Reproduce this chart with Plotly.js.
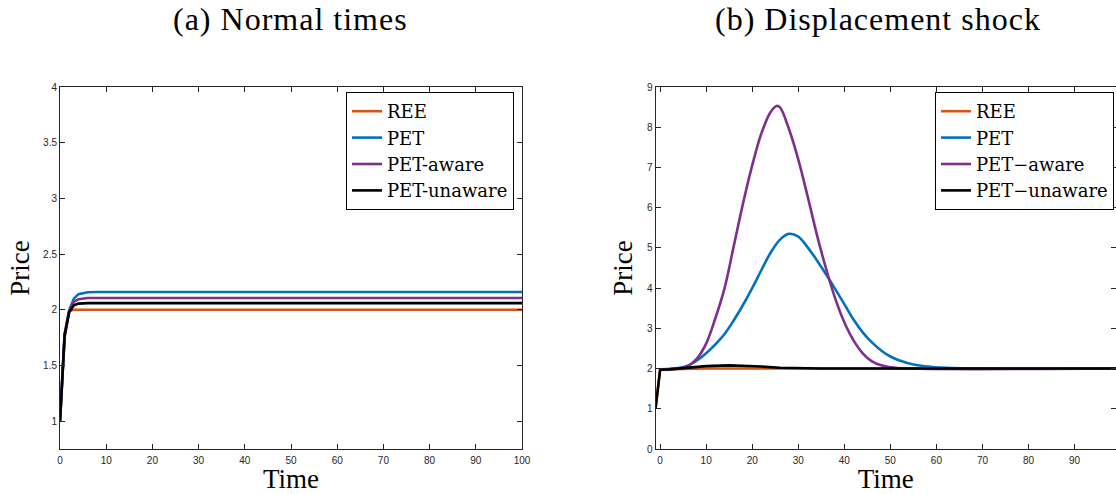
<!DOCTYPE html>
<html>
<head>
<meta charset="utf-8">
<script src="https://cdn.plot.ly/plotly-3.0.1.min.js"></script>
<style>
html,body{margin:0;padding:0;background:#fff;overflow:hidden;}
#chart{width:1116px;height:494px;}
#chart .annotation-text{letter-spacing:1px;}
</style>
</head>
<body>
<div id="chart"></div>
<script>
// ---- Panel (a): Normal times ----
const tA = [0, 1, 2, 3, 4, 5, 6, 8, 10, 100];
const reeA = [1, 1.75, 1.99, 2.0, 2.0, 2.0, 2.0, 2.0, 2.0, 2.0];
const petA = [1, 1.78, 2.0, 2.10, 2.14, 2.152, 2.157, 2.16, 2.16, 2.16];
const awareA = [1, 1.78, 1.99, 2.07, 2.095, 2.102, 2.105, 2.105, 2.105, 2.105];
const unawareA = [1, 1.77, 1.98, 2.04, 2.055, 2.06, 2.06, 2.06, 2.06, 2.06];

// ---- Panel (b): Displacement shock ----
const tRee = [-1, 0, 5, 10, 20, 40, 99];
const reeB = [1, 1.97, 1.99, 2.0, 2.0, 2.0, 2.0];

const tPet = [0, 2, 4, 6, 8, 10, 12, 14, 16, 18, 20, 22, 24, 26, 28, 30, 32, 34, 36, 38, 40, 42, 44, 46, 48, 50, 52, 55, 58, 62, 70, 99];
const petB = [1.98, 1.99, 2.01, 2.07, 2.2, 2.38, 2.6, 2.86, 3.2, 3.58, 4.0, 4.45, 4.88, 5.2, 5.35, 5.28, 5.02, 4.7, 4.35, 3.98, 3.6, 3.22, 2.9, 2.65, 2.45, 2.3, 2.2, 2.1, 2.05, 2.02, 2.0, 2.0];

const tAware = [0, 2, 4, 6, 8, 10, 12, 14, 16, 18, 20, 22, 24, 25.3, 26, 28, 30, 32, 34, 36, 38, 40, 42, 44, 46, 48, 50, 54, 99];
const awareB = [1.98, 1.99, 2.0, 2.06, 2.25, 2.62, 3.25, 4.0, 5.05, 6.1, 7.05, 7.85, 8.38, 8.53, 8.5, 7.95, 7.2, 6.3, 5.35, 4.5, 3.75, 3.15, 2.7, 2.38, 2.18, 2.08, 2.03, 2.0, 2.0];

const tUnaware = [-1, 0, 2, 5, 10, 15, 18, 22, 26, 30, 35, 99];
const unawareB = [1, 1.97, 1.98, 2.01, 2.06, 2.08, 2.075, 2.05, 2.02, 2.01, 2.0, 2.0];

const names = ['REE', 'PET', 'PET-aware', 'PET-unaware'];
const namesB = ['REE', 'PET', 'PET\u2212aware', 'PET\u2212unaware'];
const colors = ['#D95319', '#0072BD', '#7E2F8E', '#000000'];

const W = 1116, H = 494;
const serif = 'Liberation Serif, Times New Roman, serif';
const legSerif = 'DejaVu Serif, serif';
const sans = 'Liberation Sans, Arial, sans-serif';

function tr(x, y, i, nm, xa, ya, lg, shape) {
  return {x: x, y: y, type: 'scatter', mode: 'lines', name: nm,
    line: {color: colors[i], width: 2.6, shape: shape || 'linear', smoothing: 1},
    xaxis: xa, yaxis: ya, legend: lg, hoverinfo: 'skip'};
}

const data = [
  tr(tA, reeA, 0, names[0], 'x', 'y', 'legend'),
  tr(tA, petA, 1, names[1], 'x', 'y', 'legend'),
  tr(tA, awareA, 2, names[2], 'x', 'y', 'legend'),
  tr(tA, unawareA, 3, names[3], 'x', 'y', 'legend'),
  tr(tRee, reeB, 0, namesB[0], 'x2', 'y2', 'legend2'),
  tr(tPet, petB, 1, namesB[1], 'x2', 'y2', 'legend2', 'spline'),
  tr(tAware, awareB, 2, namesB[2], 'x2', 'y2', 'legend2', 'spline'),
  tr(tUnaware, unawareB, 3, namesB[3], 'x2', 'y2', 'legend2')
];

const axCommon = {
  showline: true, linecolor: '#262626', linewidth: 1, mirror: 'ticks',
  ticks: 'inside', ticklen: 5, tickwidth: 1, tickcolor: '#262626',
  showgrid: false, zeroline: false,
  tickfont: {family: sans, size: 10, color: '#262626'}
};
const yDom = [1 - 449 / H, 1 - 87 / H];
const titleFont = {family: serif, size: 27, color: '#000'};
const legendFont = {family: legSerif, size: 18, color: '#000'};

const layout = {
  width: W, height: H,
  margin: {l: 0, r: 0, t: 0, b: 0},
  paper_bgcolor: '#fff', plot_bgcolor: '#fff',
  showlegend: true,
  xaxis: Object.assign({}, axCommon, {domain: [60 / W, 522 / W], range: [0, 100], dtick: 10, tick0: 0,
    ticklabelstandoff: 2, title: {text: 'Time', font: titleFont, standoff: 12}, anchor: 'y'}),
  yaxis: Object.assign({}, axCommon, {domain: yDom, range: [0.75, 4], dtick: 0.5, tick0: 1,
    title: {text: 'Price', font: titleFont, standoff: 5}, anchor: 'x'}),
  xaxis2: Object.assign({}, axCommon, {domain: [655.5 / W, 1], range: [-1, 99], dtick: 10, tick0: 0,
    ticklabelstandoff: 2, title: {text: 'Time', font: titleFont, standoff: 12}, anchor: 'y2'}),
  yaxis2: Object.assign({}, axCommon, {domain: yDom, range: [0, 9], dtick: 1, tick0: 0,
    title: {text: 'Price', font: titleFont, standoff: 6}, anchor: 'x2'}),
  legend: {x: 514 / W, xanchor: 'right', y: 1 - 92 / H, yanchor: 'top',
    bgcolor: '#fff', bordercolor: '#000', borderwidth: 1,
    font: legendFont, tracegroupgap: 0},
  legend2: {x: 1114 / W, xanchor: 'right', y: 1 - 92 / H, yanchor: 'top',
    bgcolor: '#fff', bordercolor: '#000', borderwidth: 1,
    font: legendFont, tracegroupgap: 0},
  annotations: [
    {text: '(a) Normal times', x: 290 / W, y: 1 - 19 / H, xref: 'paper', yref: 'paper',
      xanchor: 'center', yanchor: 'middle', showarrow: false,
      font: {family: serif, size: 32, color: '#000'}},
    {text: '(b) Displacement shock', x: 878 / W, y: 1 - 19 / H, xref: 'paper', yref: 'paper',
      xanchor: 'center', yanchor: 'middle', showarrow: false,
      font: {family: serif, size: 32, color: '#000'}}
  ]
};

Plotly.newPlot('chart', data, layout, {staticPlot: true, displayModeBar: false});
</script>
</body>
</html>
